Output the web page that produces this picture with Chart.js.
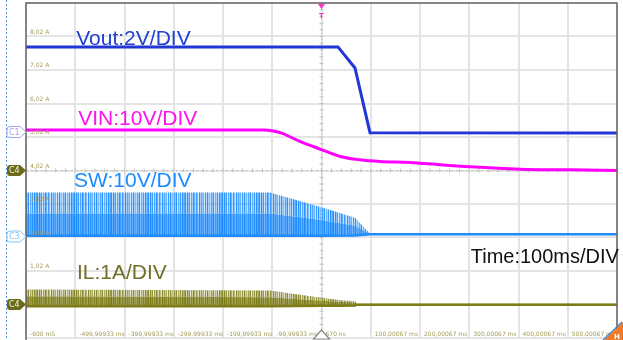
<!DOCTYPE html>
<html>
<head>
<meta charset="utf-8">
<script src="https://cdn.jsdelivr.net/npm/chart.js@4.4.1/dist/chart.umd.min.js"></script>
<style>
html,body{margin:0;padding:0;background:#fff;overflow:hidden;}
#wrap{position:relative;width:623px;height:340px;}
</style>
</head>
<body>
<div id="wrap"><canvas id="c" width="623" height="340"></canvas></div>
<script>
// ---- Data (time in ms, amplitude in screen divisions 0..10) ----
const voutT = [-600, 33.5, 68, 98.5, 600];
const voutV = [8.69, 8.69, 8.06, 6.13, 6.12];

const vinT = [-600, -115, -84, -44, -3, 38, 78, 119, 180, 241, 302, 403, 505, 600];
const vinV = [6.21, 6.21, 6.13, 5.87, 5.64, 5.42, 5.32, 5.27, 5.24, 5.17, 5.11, 5.04, 5.02, 5.00];

// SW switching node: envelopes of the switching band
const swT    = [-600, -105, 0, 68, 98.5, 600];
const swTop  = [4.34, 4.34, 3.90, 3.59, 3.11, 3.11];
const swCore = [3.72, 3.72, 3.52, 3.35, 3.11, 3.11];
const swLow  = [3.05, 3.05, 3.05, 3.06, 3.10, 3.10];

// IL inductor current: envelopes of the ripple band
const ilT    = [-600, -105, 0, 40, 68, 72, 600];
const ilTop  = [1.45, 1.42, 1.20, 1.13, 1.10, 1.02, 1.02];
const ilCore = [1.25, 1.22, 1.11, 1.08, 1.06, 1.02, 1.02];
const ilLow  = [0.95, 0.95, 0.96, 0.96, 0.97, 0.99, 0.99];

const xTicks = [-600, -500, -400, -300, -200, -100, 0, 100, 200, 300, 400, 500];
const xTickLabels = ['-600 mS', '-499,99933 ms', '-399,99933 ms', '-299,99933 ms', '-199,99933 ms',
  '-99,99933 ms', '670 ns', '100,00067 ms', '200,00067 ms', '300,00067 ms', '400,00067 ms', '500,00067 ms'];
const yTicks = [9, 8, 7, 6, 5, 4, 3, 2];
const yTickLabels = ['8,02 A', '7,02 A', '6,02 A', '5,02 A', '4,02 A', '3,02 A', '2,02 A', '1,02 A'];

const chMarkers = ['C1', 'C4', 'C3', 'C4'];
const chLevels = [6.15, 5.0, 3.03, 1.0];

const notes = ['Vout:2V/DIV', 'VIN:10V/DIV', 'SW:10V/DIV', 'IL:1A/DIV', 'Time:100ms/DIV'];
const noteAt = [[-498, 8.75], [-494, 6.36], [-502.5, 4.52], [-496.5, 1.77], [303, 2.25]];

// ---- styles ----
const C_VOUT = '#2236d8', C_VIN = '#ff00ff', C_SW = '#1e8cff', C_IL = '#7d7d18';
const noteColors = ['#2040d0', '#ff10ee', '#1a8cff', '#6f6f2a', '#111111'];

// fixed streak texture (style only) for the dense switching bands
const STREAK = '9294817396285193746182935274916382957';
function streakPattern(rgb, lo, hi){
  const cv = document.createElement('canvas');
  cv.width = STREAK.length; cv.height = 4;
  const g = cv.getContext('2d');
  for (let i = 0; i < STREAK.length; i++){
    const a = lo + (hi - lo) * (+STREAK[i]) / 9;
    g.fillStyle = 'rgba(' + rgb + ',' + a.toFixed(2) + ')';
    g.fillRect(i, 0, 1, 4);
  }
  return g.createPattern(cv, 'repeat');
}

function pts(t, v){ return t.map((x,i)=>({x:x, y:v[i]})); }

const datasets = [
  {label:'Vout', data:pts(voutT, voutV), borderColor:C_VOUT, borderWidth:3, fill:false, order:1},
  {label:'VIN', data:pts(vinT, vinV), borderColor:C_VIN, borderWidth:3, fill:false, cubicInterpolationMode:'monotone', order:1},
  {label:'SW top', data:pts(swT, swTop), borderColor:'rgba(30,140,255,0)', borderWidth:0, fill:'+1', backgroundColor:streakPattern('30,140,255', 0.1, 0.95), order:3},
  {label:'SW core', data:pts(swT, swCore), borderColor:'rgba(30,140,255,0)', borderWidth:0, fill:'+1', backgroundColor:streakPattern('30,140,255', 0.6, 1.0), order:3},
  {label:'SW low', data:pts(swT, swLow), borderColor:C_SW, borderWidth:2.5, fill:false, order:2},
  {label:'IL top', data:pts(ilT, ilTop), borderColor:'rgba(125,125,24,0)', borderWidth:0, fill:'+1', backgroundColor:streakPattern('125,125,24', 0.1, 0.9), order:3},
  {label:'IL core', data:pts(ilT, ilCore), borderColor:'rgba(125,125,24,0)', borderWidth:0, fill:'+1', backgroundColor:streakPattern('125,125,24', 0.65, 1.0), order:3},
  {label:'IL low', data:pts(ilT, ilLow), borderColor:C_IL, borderWidth:2.5, fill:false, order:2}
];

function marker(ctx, y, text, filled, color){
  const x0 = 7, x1 = 20, x2 = 26, h = 11;
  ctx.beginPath();
  ctx.moveTo(x0+3, y-h/2);
  ctx.lineTo(x1, y-h/2);
  ctx.lineTo(x2, y);
  ctx.lineTo(x1, y+h/2);
  ctx.lineTo(x0+3, y+h/2);
  ctx.quadraticCurveTo(x0, y+h/2, x0, y+h/2-3);
  ctx.lineTo(x0, y-h/2+3);
  ctx.quadraticCurveTo(x0, y-h/2, x0+3, y-h/2);
  ctx.closePath();
  if (filled){ ctx.fillStyle = color; ctx.fill(); }
  else { ctx.fillStyle = '#fff'; ctx.fill(); ctx.strokeStyle = color; ctx.lineWidth = 1; ctx.stroke(); }
  ctx.fillStyle = filled ? '#f4f4e0' : color;
  ctx.font = '8px "DejaVu Sans", sans-serif';
  ctx.textAlign = 'left'; ctx.textBaseline = 'middle';
  ctx.fillText(text, x0+2, y+0.5);
}

const scopePlugin = {
  id: 'scope',
  beforeDatasetsDraw(chart){
    const {ctx, chartArea:a, scales:{x, y}} = chart;
    ctx.save();
    const cx = x.getPixelForValue(0), cy = y.getPixelForValue(5);
    ctx.strokeStyle = '#c4c4c4'; ctx.lineWidth = 1;
    ctx.setLineDash([2,3]);
    ctx.beginPath(); ctx.moveTo(cx, a.top); ctx.lineTo(cx, a.bottom); ctx.stroke();
    ctx.beginPath(); ctx.moveTo(a.left, cy); ctx.lineTo(a.right, cy); ctx.stroke();
    ctx.setLineDash([]);
    ctx.strokeStyle = '#c0c0c0';
    for (let t = -600; t <= 600; t += 20){
      const px = x.getPixelForValue(t);
      ctx.beginPath(); ctx.moveTo(px, cy-2); ctx.lineTo(px, cy+2); ctx.stroke();
    }
    for (let d = 0; d <= 10; d += 0.2){
      const py = y.getPixelForValue(d);
      ctx.beginPath(); ctx.moveTo(cx-2, py); ctx.lineTo(cx+2, py); ctx.stroke();
    }
    ctx.restore();
  },
  afterDraw(chart){
    const {ctx, chartArea:a, scales:{x, y}} = chart;
    ctx.save();
    ctx.strokeStyle = '#666'; ctx.lineWidth = 1.5;
    ctx.strokeRect(a.left, a.top, a.right-a.left, a.bottom-a.top+4);
    ctx.strokeStyle = '#4a9be6'; ctx.lineWidth = 1; ctx.setLineDash([2,2]);
    ctx.beginPath(); ctx.moveTo(6.5, 0); ctx.lineTo(6.5, 340); ctx.stroke();
    ctx.setLineDash([]);
    ctx.fillStyle = '#a29c58';
    ctx.font = '6px "DejaVu Sans", sans-serif';
    ctx.textAlign = 'left'; ctx.textBaseline = 'alphabetic';
    yTicks.forEach((d,i)=>{ ctx.fillText(yTickLabels[i], a.left+4, y.getPixelForValue(d)-3); });
    xTicks.forEach((t,i)=>{ ctx.fillText(xTickLabels[i], x.getPixelForValue(t)+4, a.bottom-2); });
    const mc = ['#a79ee8', '#6a6a1a', '#86c2f2', '#6a6a1a'];
    const mf = [false, true, false, true];
    chMarkers.forEach((m,i)=> marker(ctx, y.getPixelForValue(chLevels[i]), m, mf[i], mc[i]));
    const cx = x.getPixelForValue(0);
    ctx.fillStyle = '#ff33cc';
    ctx.beginPath(); ctx.moveTo(cx-3.5, 4); ctx.lineTo(cx+3.5, 4); ctx.lineTo(cx, 9); ctx.closePath(); ctx.fill();
    ctx.font = 'bold 7px "DejaVu Sans", sans-serif'; ctx.textAlign = 'center';
    ctx.fillText('T', cx, 16);
    ctx.fillStyle = '#fff'; ctx.strokeStyle = '#888'; ctx.lineWidth = 1.2;
    ctx.beginPath(); ctx.moveTo(cx-8, 339); ctx.lineTo(cx, 330); ctx.lineTo(cx+8, 339); ctx.closePath(); ctx.fill(); ctx.stroke();
    ctx.fillStyle = '#f07a28';
    ctx.beginPath(); ctx.moveTo(604, 340); ctx.lineTo(623, 322); ctx.lineTo(623, 340); ctx.closePath(); ctx.fill();
    ctx.strokeStyle = '#3b7fd0'; ctx.lineWidth = 1.2;
    ctx.beginPath(); ctx.moveTo(603, 340); ctx.lineTo(622, 322); ctx.stroke();
    ctx.fillStyle = '#fff'; ctx.font = 'bold 7px "DejaVu Sans", sans-serif';
    ctx.fillText('H', 617, 337);
    ctx.textAlign = 'left'; ctx.textBaseline = 'alphabetic';
    notes.forEach((n,i)=>{
      ctx.font = (i === 4 ? '20px' : '21px') + ' "Liberation Sans", Arial, sans-serif';
      ctx.fillStyle = noteColors[i];
      ctx.fillText(n, x.getPixelForValue(noteAt[i][0]), y.getPixelForValue(noteAt[i][1]));
    });
    ctx.restore();
  }
};

new Chart(document.getElementById('c'), {
  type: 'line',
  data: { datasets },
  options: {
    responsive: false,
    animation: false,
    devicePixelRatio: 1,
    layout: { padding: { left: 26, right: 6, top: 3, bottom: 2 } },
    elements: { point: { radius: 0 }, line: { tension: 0 } },
    plugins: { legend: { display: false }, tooltip: { enabled: false } },
    scales: {
      x: { type: 'linear', min: -600, max: 600,
           ticks: { display: false, stepSize: 100 },
           grid: { color: '#e4e4e4', lineWidth: 2, drawTicks: false },
           border: { display: false } },
      y: { type: 'linear', min: 0, max: 10,
           ticks: { display: false, stepSize: 1 },
           grid: { color: '#e4e4e4', lineWidth: 2, drawTicks: false },
           border: { display: false } }
    }
  },
  plugins: [scopePlugin]
});
</script>
</body>
</html>
